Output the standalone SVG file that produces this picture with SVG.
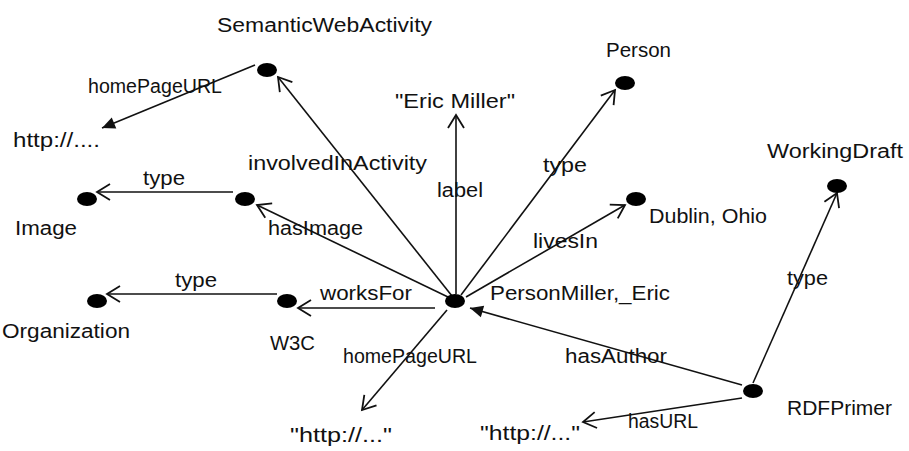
<svg xmlns="http://www.w3.org/2000/svg" width="909" height="451" viewBox="0 0 909 451">
<style>
text{font-family:"Liberation Sans","DejaVu Sans",sans-serif;font-size:20px;fill:#111}
.dot{fill:#000}
.e{stroke:#111;stroke-width:1.6;fill:none}
.o{marker-end:url(#open)}
.f{marker-end:url(#fill)}
</style>
<defs>
<marker id="open" markerUnits="userSpaceOnUse" markerWidth="20" markerHeight="20" refX="14" refY="10" orient="auto" viewBox="0 0 20 20">
<path d="M1,2 L14,10 L1,18" fill="none" stroke="#111" stroke-width="1.8"/>
</marker>
<marker id="fill" markerUnits="userSpaceOnUse" markerWidth="20" markerHeight="20" refX="14" refY="10" orient="auto" viewBox="0 0 20 20">
<path d="M1,4 L14,10 L1,16 Z" fill="#111"/>
</marker>
</defs>
<rect width="909" height="451" fill="#fff"/>
<g id="connectors">
<line class="e f" x1="255" y1="65" x2="102" y2="128"/>
<line class="e o" x1="452" y1="296" x2="278" y2="77"/>
<line class="e o" x1="233" y1="192" x2="97" y2="192"/>
<line class="e o" x1="448" y1="297" x2="257" y2="205"/>
<line class="e o" x1="456" y1="294" x2="456" y2="115"/>
<line class="e o" x1="461" y1="295" x2="615" y2="90"/>
<line class="e o" x1="466" y1="297" x2="625" y2="205"/>
<line class="e o" x1="753" y1="383" x2="837" y2="193"/>
<line class="e f" x1="742" y1="385" x2="470" y2="308"/>
<line class="e o" x1="742" y1="398" x2="583" y2="422"/>
<line class="e o" x1="435" y1="308" x2="298" y2="308"/>
<line class="e o" x1="277" y1="294" x2="107" y2="294"/>
<line class="e o" x1="447" y1="310" x2="362" y2="410"/>
</g>
<g id="n-swa"><ellipse class="dot" cx="267" cy="70" rx="10" ry="7"/><text x="217" y="32" textLength="215" lengthAdjust="spacingAndGlyphs">SemanticWebActivity</text></g>
<g id="n-http1"><text x="13" y="147" textLength="87" lengthAdjust="spacingAndGlyphs">http://....</text></g>
<g id="n-image"><ellipse class="dot" cx="87" cy="199" rx="10" ry="7"/><text x="15" y="235" textLength="62" lengthAdjust="spacingAndGlyphs">Image</text></g>
<g id="n-img"><ellipse class="dot" cx="245" cy="199" rx="10" ry="7"/></g>
<g id="n-eric"><text x="395" y="108" textLength="120" lengthAdjust="spacingAndGlyphs">"Eric Miller"</text></g>
<g id="n-person"><ellipse class="dot" cx="625" cy="83" rx="10" ry="7"/><text x="606" y="57" textLength="65" lengthAdjust="spacingAndGlyphs">Person</text></g>
<g id="n-dublin"><ellipse class="dot" cx="636" cy="199" rx="10" ry="7"/><text x="649" y="223" textLength="118" lengthAdjust="spacingAndGlyphs">Dublin, Ohio</text></g>
<g id="n-wd"><ellipse class="dot" cx="837" cy="186" rx="10" ry="7"/><text x="767" y="158" textLength="136" lengthAdjust="spacingAndGlyphs">WorkingDraft</text></g>
<g id="n-center"><ellipse class="dot" cx="455" cy="301" rx="10" ry="7"/><text x="490" y="300" textLength="180" lengthAdjust="spacingAndGlyphs">PersonMiller,_Eric</text></g>
<g id="n-w3c"><ellipse class="dot" cx="287" cy="301" rx="10" ry="7"/><text x="270" y="350" textLength="45" lengthAdjust="spacingAndGlyphs">W3C</text></g>
<g id="n-org"><ellipse class="dot" cx="97" cy="301" rx="10" ry="7"/><text x="2" y="338" textLength="128" lengthAdjust="spacingAndGlyphs">Organization</text></g>
<g id="n-rdf"><ellipse class="dot" cx="753" cy="391" rx="10" ry="7"/><text x="787" y="415" textLength="105" lengthAdjust="spacingAndGlyphs">RDFPrimer</text></g>
<g id="n-http2"><text x="290" y="442" textLength="102" lengthAdjust="spacingAndGlyphs">"http://..."</text></g>
<g id="n-http3"><text x="480" y="440" textLength="100" lengthAdjust="spacingAndGlyphs">"http://..."</text></g>
<g id="edge-labels">
<text x="88" y="93" textLength="134" lengthAdjust="spacingAndGlyphs">homePageURL</text>
<text x="248" y="170" textLength="179" lengthAdjust="spacingAndGlyphs">involvedInActivity</text>
<text x="143" y="185" textLength="42" lengthAdjust="spacingAndGlyphs">type</text>
<text x="437" y="197" textLength="46" lengthAdjust="spacingAndGlyphs">label</text>
<text x="543" y="172" textLength="44" lengthAdjust="spacingAndGlyphs">type</text>
<text x="268" y="235" textLength="95" lengthAdjust="spacingAndGlyphs">hasImage</text>
<text x="533" y="248" textLength="65" lengthAdjust="spacingAndGlyphs">livesIn</text>
<text x="175" y="287" textLength="42" lengthAdjust="spacingAndGlyphs">type</text>
<text x="320" y="300" textLength="92" lengthAdjust="spacingAndGlyphs">worksFor</text>
<text x="787" y="285" textLength="41" lengthAdjust="spacingAndGlyphs">type</text>
<text x="343" y="363" textLength="134" lengthAdjust="spacingAndGlyphs">homePageURL</text>
<text x="565" y="363" textLength="102" lengthAdjust="spacingAndGlyphs">hasAuthor</text>
<text x="628" y="428" textLength="70" lengthAdjust="spacingAndGlyphs">hasURL</text>
</g>
</svg>
